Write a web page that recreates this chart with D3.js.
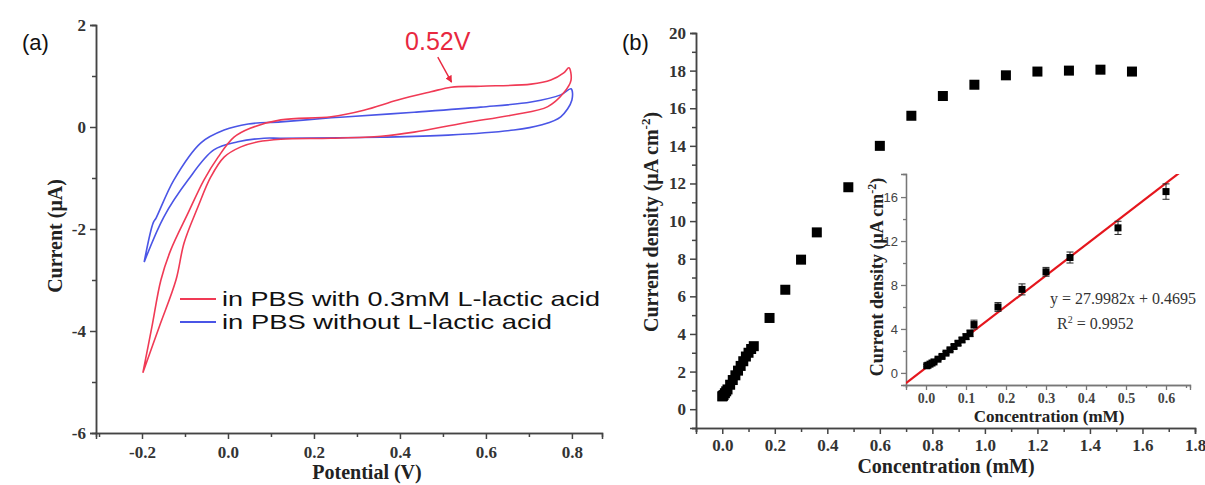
<!DOCTYPE html>
<html>
<head>
<meta charset="utf-8">
<script src="https://cdn.jsdelivr.net/npm/d3@7"></script>
<style>
  body { margin: 0; background: #fff; }
  .serif { font-family: "Liberation Serif", "Times New Roman", serif; }
  .sans { font-family: "Liberation Sans", Arial, sans-serif; }
  .axis path, .axis line { stroke: #444; stroke-width: 1.5; }
  .axis text { fill: #333; font-family: "Liberation Serif", "Times New Roman", serif; font-weight: bold; }
  .inset path, .inset line { stroke: #777; stroke-width: 1.3; }
</style>
</head>
<body>
<div id="chart"></div>
<script>
// ---- data: panel (a) cyclic voltammograms (potential V, current uA) ----
var withAcidV = [-0.198, -0.177, -0.156, -0.133, -0.093, -0.056, -0.023, 0.014, 0.053, 0.123, 0.24, 0.316, 0.395, 0.472, 0.519, 0.588, 0.705, 0.751, 0.781, 0.793,
  0.798, 0.781, 0.744, 0.665, 0.549, 0.433, 0.356, 0.24, 0.123, 0.07, 0.03, -0.009, -0.04, -0.07, -0.102, -0.121, -0.16, -0.198];
var withAcidI = [-4.82, -3.92, -3.0, -2.41, -1.69, -1.04, -0.59, -0.2, -0.02, 0.14, 0.2, 0.33, 0.53, 0.69, 0.78, 0.80, 0.84, 0.92, 1.06, 1.16,
  0.92, 0.67, 0.4, 0.24, 0.08, -0.1, -0.18, -0.22, -0.24, -0.29, -0.39, -0.59, -0.98, -1.57, -2.27, -3.0, -3.92, -4.82];
var noAcidV = [-0.195, -0.174, -0.167, -0.126, -0.063, -0.009, 0.047, 0.123, 0.24, 0.279, 0.433, 0.588, 0.705, 0.774, 0.798,
  0.8, 0.774, 0.728, 0.665, 0.512, 0.356, 0.123, 0.084, 0.023, -0.033, -0.093, -0.149, -0.195];
var noAcidI = [-2.65, -1.88, -1.78, -1.04, -0.31, -0.06, 0.06, 0.10, 0.18, 0.20, 0.29, 0.39, 0.49, 0.63, 0.75,
  0.53, 0.2, 0.04, -0.06, -0.16, -0.2, -0.22, -0.22, -0.29, -0.45, -1.04, -1.76, -2.65];
var legendLabels = ["in PBS with 0.3mM L-lactic acid", "in PBS without L-lactic acid"];
var peakLabel = "0.52V";
var peakV = 0.52, peakI = 0.88;

// ---- data: panel (b) calibration ----
var concMain = [0, 0.002, 0.005, 0.01, 0.015, 0.02, 0.03, 0.04, 0.05, 0.06, 0.07, 0.08, 0.09, 0.10, 0.11, 0.12,
  0.18, 0.24, 0.30, 0.36, 0.48, 0.60, 0.72, 0.84, 0.96, 1.08, 1.20, 1.32, 1.44, 1.56];
var densityMain = [0.68, 0.70, 0.75, 0.85, 0.95, 1.05, 1.3, 1.55, 1.8, 2.05, 2.3, 2.55, 2.8, 3.0, 3.2, 3.35,
  4.85, 6.35, 7.95, 9.4, 11.8, 14.0, 15.6, 16.65, 17.25, 17.75, 17.95, 18.0, 18.05, 17.95];
var concInset = [0.002, 0.005, 0.01, 0.015, 0.02, 0.03, 0.04, 0.05, 0.06, 0.07, 0.08, 0.09, 0.10, 0.11, 0.12,
  0.18, 0.24, 0.30, 0.36, 0.48, 0.60];
var densityInset = [0.65, 0.7, 0.8, 0.9, 1.0, 1.25, 1.5, 1.8, 2.1, 2.4, 2.7, 3.0, 3.3, 3.6, 4.4,
  6.0, 7.6, 9.2, 10.5, 13.2, 16.5];
var errInset = [0.1, 0.1, 0.1, 0.1, 0.1, 0.1, 0.15, 0.15, 0.15, 0.2, 0.2, 0.2, 0.25, 0.3, 0.4,
  0.4, 0.5, 0.4, 0.5, 0.6, 0.7];
var fitSlope = 27.9982, fitIntercept = 0.4695;
var fitText = "y = 27.9982x + 0.4695";
var r2Text = " = 0.9952";

// plain hyphen for negative numbers, like the original
var hyphenInt = function(d) { return String(d); };
var oneDec = function(d) { return d3.format(".1f")(d).replace("\u2212", "-"); };

var svg = d3.select("#chart").append("svg")
  .attr("width", 1205)
  .attr("height", 485);

// =============== panel (a) ===============
var xA = d3.scaleLinear().domain([-0.307, 0.87]).range([96, 602]);
var yA = d3.scaleLinear().domain([-6, 2]).range([433, 25]);

svg.append("g").attr("class", "axis")
  .attr("transform", "translate(0,433)")
  .call(d3.axisBottom(xA).tickValues([-0.3, -0.1, 0.1, 0.3, 0.5, 0.7]).tickSize(4).tickFormat(""));
svg.append("g").attr("class", "axis")
  .attr("transform", "translate(0,433)")
  .call(d3.axisBottom(xA).tickValues([-0.2, 0, 0.2, 0.4, 0.6, 0.8]).tickSize(6).tickPadding(7).tickFormat(oneDec))
  .selectAll("text").style("font-size", "17px");
svg.append("g").attr("class", "axis")
  .attr("transform", "translate(96,0)")
  .call(d3.axisLeft(yA).tickValues([-5, -3, -1, 1]).tickSize(4).tickFormat(""));
svg.append("g").attr("class", "axis")
  .attr("transform", "translate(96,0)")
  .call(d3.axisLeft(yA).tickValues([-6, -4, -2, 0, 2]).tickSize(6).tickPadding(4).tickFormat(hyphenInt))
  .selectAll("text").style("font-size", "17px");

var cvLine = d3.line().curve(d3.curveCatmullRom.alpha(0.5))
  .x(function(d) { return xA(d[0]); })
  .y(function(d) { return yA(d[1]); });

svg.append("path")
  .datum(noAcidV.map(function(v, i) { return [v, noAcidI[i]]; }))
  .attr("d", cvLine).attr("fill", "none").attr("stroke", "#4a55e6").attr("stroke-width", 1.6);
svg.append("path")
  .datum(withAcidV.map(function(v, i) { return [v, withAcidI[i]]; }))
  .attr("d", cvLine).attr("fill", "none").attr("stroke", "#f03a55").attr("stroke-width", 1.6);

// legend
var legendColors = ["#f03a55", "#4a55e6"];
var legendWidths = [378, 330];
legendLabels.forEach(function(lbl, i) {
  var y = 299 + i * 23;
  svg.append("line").attr("x1", 180).attr("x2", 216).attr("y1", y).attr("y2", y)
    .attr("stroke", legendColors[i]).attr("stroke-width", 1.8);
  svg.append("text").attr("class", "sans").attr("x", 222).attr("y", y + 7)
    .attr("font-size", 21).attr("fill", "#111")
    .attr("textLength", legendWidths[i]).attr("lengthAdjust", "spacingAndGlyphs")
    .text(lbl);
});

// peak annotation
svg.append("defs").append("marker")
  .attr("id", "arrow").attr("viewBox", "0 0 10 10").attr("refX", 9).attr("refY", 5)
  .attr("markerWidth", 5).attr("markerHeight", 5).attr("orient", "auto")
  .append("path").attr("d", "M0,0 L10,5 L0,10 z").attr("fill", "#e8283f");
svg.append("line")
  .attr("x1", xA(peakV - 0.032)).attr("y1", yA(peakI + 0.49))
  .attr("x2", xA(peakV)).attr("y2", yA(peakI))
  .attr("stroke", "#e8283f").attr("stroke-width", 1.4).attr("marker-end", "url(#arrow)");
svg.append("text").attr("class", "sans")
  .attr("x", xA(peakV - 0.032)).attr("y", yA(peakI + 0.63))
  .attr("text-anchor", "middle").attr("font-size", 25).attr("fill", "#e8283f")
  .text(peakLabel);

// axis titles
svg.append("text").attr("class", "serif")
  .attr("transform", "translate(62,236) rotate(-90)")
  .attr("text-anchor", "middle").attr("font-size", 20).attr("font-weight", "bold").attr("fill", "#222")
  .text("Current (μA)");
svg.append("text").attr("class", "serif")
  .attr("x", 367).attr("y", 479)
  .attr("text-anchor", "middle").attr("font-size", 20).attr("font-weight", "bold").attr("fill", "#222")
  .text("Potential (V)");
svg.append("text").attr("class", "sans").attr("x", 22).attr("y", 50)
  .attr("font-size", 22).attr("fill", "#111").text("(a)");

// =============== panel (b) ===============
var xB = d3.scaleLinear().domain([-0.1, 1.8]).range([696, 1195]);
var yB = d3.scaleLinear().domain([-1, 20]).range([428, 33]);

svg.append("g").attr("class", "axis")
  .attr("transform", "translate(0,428)")
  .call(d3.axisBottom(xB).tickValues(d3.range(-1, 18, 2).map(function(d) { return d / 10; })).tickSize(4).tickFormat(""));
svg.append("g").attr("class", "axis")
  .attr("transform", "translate(0,428)")
  .call(d3.axisBottom(xB).tickValues(d3.range(0, 10).map(function(d) { return d * 0.2; })).tickSize(6).tickPadding(5).tickFormat(oneDec))
  .selectAll("text").style("font-size", "17px");
svg.append("g").attr("class", "axis")
  .attr("transform", "translate(696,0)")
  .call(d3.axisLeft(yB).tickValues(d3.range(-1, 20, 2)).tickSize(4).tickFormat(""));
svg.append("g").attr("class", "axis")
  .attr("transform", "translate(696,0)")
  .call(d3.axisLeft(yB).tickValues(d3.range(0, 21, 2)).tickSize(6).tickPadding(4).tickFormat(hyphenInt))
  .selectAll("text").style("font-size", "17px");

svg.selectAll(".mainPt")
  .data(concMain)
  .enter()
  .append("rect")
  .attr("class", "mainPt")
  .attr("x", function(d) { return xB(d) - 5; })
  .attr("y", function(d, i) { return yB(densityMain[i]) - 5; })
  .attr("width", 10).attr("height", 10)
  .attr("fill", "#000");

var yTitle = svg.append("text").attr("class", "serif")
  .attr("transform", "translate(658,222) rotate(-90)")
  .attr("text-anchor", "middle").attr("font-size", 20).attr("font-weight", "bold").attr("fill", "#222");
yTitle.append("tspan").text("Current density (μA cm");
yTitle.append("tspan").attr("dy", -8).attr("font-size", 13).text("-2");
yTitle.append("tspan").attr("dy", 8).text(")");

svg.append("text").attr("class", "serif")
  .attr("x", 946).attr("y", 473)
  .attr("text-anchor", "middle").attr("font-size", 20).attr("font-weight", "bold").attr("fill", "#222")
  .text("Concentration (mM)");
svg.append("text").attr("class", "sans").attr("x", 622).attr("y", 50)
  .attr("font-size", 22).attr("fill", "#111").text("(b)");

// ---- inset ----
var xI = d3.scaleLinear().domain([-0.05, 0.66]).range([906, 1190]);
var yI = d3.scaleLinear().domain([-1.1, 18.1]).range([385, 174]);

svg.append("clipPath").attr("id", "insetClip")
  .append("rect").attr("x", 906).attr("y", 174).attr("width", 284).attr("height", 211);

svg.append("g").attr("class", "axis inset")
  .attr("transform", "translate(0,385)")
  .call(d3.axisBottom(xI).tickValues([-0.05, 0.05, 0.15, 0.25, 0.35, 0.45, 0.55, 0.65]).tickSize(3).tickFormat(""));
var gx2 = svg.append("g").attr("class", "axis inset")
  .attr("transform", "translate(0,385)")
  .call(d3.axisBottom(xI).tickValues([0, 0.1, 0.2, 0.3, 0.4, 0.5, 0.6]).tickSize(5).tickPadding(3).tickFormat(oneDec));
gx2.selectAll("text").style("font-size", "14px").style("fill", "#444");
svg.append("g").attr("class", "axis inset")
  .attr("transform", "translate(906,0)")
  .call(d3.axisLeft(yI).tickValues([2, 6, 10, 14]).tickSize(3).tickFormat(""));
var gy2 = svg.append("g").attr("class", "axis inset")
  .attr("transform", "translate(906,0)")
  .call(d3.axisLeft(yI).tickValues([0, 4, 8, 12, 16]).tickSize(5).tickPadding(3).tickFormat(hyphenInt));
gy2.selectAll("text").style("font-size", "13px").style("font-family", "Liberation Sans, Arial, sans-serif")
  .style("font-weight", "normal").style("fill", "#444");

// fit line
var fitX = [-0.05, 0.66];
svg.append("line")
  .attr("clip-path", "url(#insetClip)")
  .attr("x1", xI(fitX[0])).attr("y1", yI(fitSlope * fitX[0] + fitIntercept))
  .attr("x2", xI(fitX[1])).attr("y2", yI(fitSlope * fitX[1] + fitIntercept))
  .attr("stroke", "#e5161d").attr("stroke-width", 2.2);

// error bars + points
var eb = svg.selectAll(".err").data(concInset).enter().append("g").attr("class", "err");
eb.append("line")
  .attr("x1", function(d) { return xI(d); }).attr("x2", function(d) { return xI(d); })
  .attr("y1", function(d, i) { return yI(densityInset[i] - errInset[i]); })
  .attr("y2", function(d, i) { return yI(densityInset[i] + errInset[i]); })
  .attr("stroke", "#222").attr("stroke-width", 1);
[1, -1].forEach(function(sgn) {
  eb.append("line")
    .attr("x1", function(d) { return xI(d) - 3.5; }).attr("x2", function(d) { return xI(d) + 3.5; })
    .attr("y1", function(d, i) { return yI(densityInset[i] + sgn * errInset[i]); })
    .attr("y2", function(d, i) { return yI(densityInset[i] + sgn * errInset[i]); })
    .attr("stroke", "#222").attr("stroke-width", 1);
});
eb.append("rect")
  .attr("x", function(d) { return xI(d) - 3.5; })
  .attr("y", function(d, i) { return yI(densityInset[i]) - 3.5; })
  .attr("width", 7).attr("height", 7)
  .attr("fill", "#000");

svg.append("text").attr("class", "serif")
  .attr("x", 1050).attr("y", 304).attr("font-size", 16).attr("fill", "#333")
  .text(fitText);
var r2 = svg.append("text").attr("class", "serif")
  .attr("x", 1057).attr("y", 329).attr("font-size", 16).attr("fill", "#333");
r2.append("tspan").text("R");
r2.append("tspan").attr("dy", -6).attr("font-size", 10).text("2");
r2.append("tspan").attr("dy", 6).text(r2Text);

var iyTitle = svg.append("text").attr("class", "serif")
  .attr("transform", "translate(883,277) rotate(-90)")
  .attr("text-anchor", "middle").attr("font-size", 18).attr("font-weight", "bold").attr("fill", "#222");
iyTitle.append("tspan").text("Current density (μA cm");
iyTitle.append("tspan").attr("dy", -7).attr("font-size", 12).text("-2");
iyTitle.append("tspan").attr("dy", 7).text(")");

svg.append("text").attr("class", "serif")
  .attr("x", 1049).attr("y", 422)
  .attr("text-anchor", "middle").attr("font-size", 17).attr("font-weight", "bold").attr("fill", "#222")
  .text("Concentration (mM)");
</script>
</body>
</html>
